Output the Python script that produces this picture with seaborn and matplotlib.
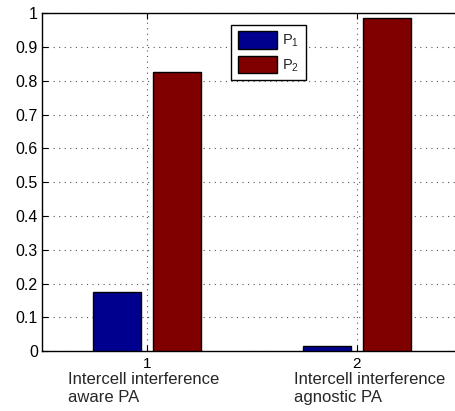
import matplotlib
matplotlib.use("Agg")
import matplotlib.pyplot as plt
import seaborn as sns
import pandas as pd
from matplotlib.ticker import FormatStrFormatter

# Data
groups = ["1", "2"]
group_descriptions = ["Intercell interference\naware PA", "Intercell interference\nagnostic PA"]
series = ["$\\mathregular{P_1}$", "$\\mathregular{P_2}$"]
p1_values = [0.174, 0.014]
p2_values = [0.827, 0.986]
y_ticks = [0, 0.1, 0.2, 0.3, 0.4, 0.5, 0.6, 0.7, 0.8, 0.9, 1]

rows = []
for g, a, b in zip(groups, p1_values, p2_values):
    rows.append({"group": g, "series": series[0], "value": a})
    rows.append({"group": g, "series": series[1], "value": b})
df = pd.DataFrame(rows)

sns.set_style("white")
plt.rcParams["font.family"] = ["Liberation Sans", "DejaVu Sans"]
plt.rcParams["mathtext.fontset"] = "custom"
plt.rcParams["mathtext.rm"] = "Liberation Sans"

fig = plt.figure(figsize=(4.56, 4.11), dpi=100)
ax = fig.add_axes([42 / 456, 60 / 411, 420 / 456, 337.5 / 411])

palette = {series[0]: "#00008F", series[1]: "#800000"}
sns.barplot(data=df, x="group", y="value", hue="series", order=groups,
            hue_order=series, palette=palette, width=0.571, gap=0.185,
            edgecolor="black", linewidth=1.0, saturation=1, ax=ax, zorder=3,
            legend=True)

ax.set_xlim(-0.5, 1.5)
ax.set_ylim(0, 1)
ax.set_yticks(y_ticks)
ax.yaxis.set_major_formatter(FormatStrFormatter("%g"))
ax.set_xlabel("")
ax.set_ylabel("")

for s in ax.spines.values():
    s.set_visible(True)
    s.set_color("black")
    s.set_linewidth(1.0)

ax.tick_params(axis="both", which="both", direction="in", length=4, width=0.8,
               top=True, right=True, bottom=True, left=True,
               labelsize=11.5, colors="black", pad=3)
ax.tick_params(axis="x", labelsize=11, pad=4)
ax.grid(True, linestyle=(0, (1, 4)), color="#555555", linewidth=0.8, zorder=0)
ax.set_axisbelow(True)

# group descriptions under tick labels
desc_x = [-0.376, 0.7]
for x, d in zip(desc_x, group_descriptions):
    ax.text(x, -0.062, d, transform=ax.get_xaxis_transform(), ha="left",
            va="top", fontsize=12, linespacing=1.22)

leg = ax.legend(loc="upper left", bbox_to_anchor=(231 / 456, 1 - 24.7 / 411),
                bbox_transform=fig.transFigure, frameon=True, fancybox=False,
                edgecolor="black", framealpha=1, fontsize=10.5,
                handlelength=2.7, handleheight=1.45, borderpad=0.45,
                labelspacing=0.45, handletextpad=0.35, borderaxespad=0)
leg.get_frame().set_linewidth(1.0)

fig.savefig("out.png", dpi=100)
